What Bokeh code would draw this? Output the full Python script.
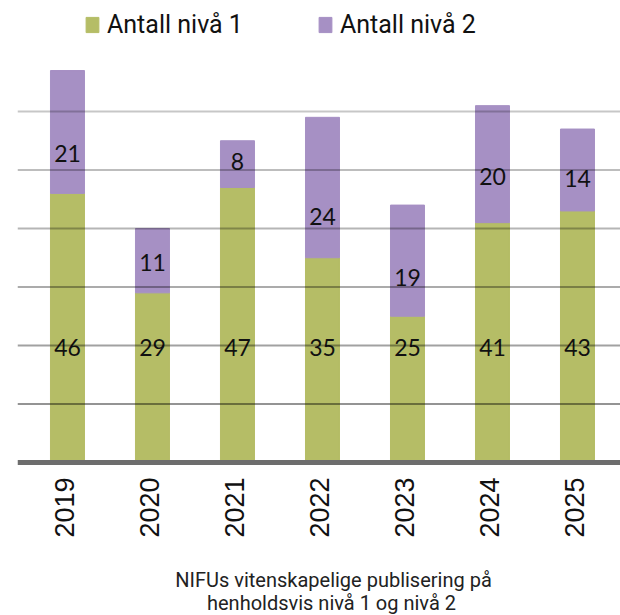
import math
from bokeh.plotting import figure
from bokeh.models import Range1d, Span, Legend, LegendItem, ColumnDataSource
from bokeh.core.properties import value
from bokeh.embed import file_html
from bokeh.resources import INLINE

years = ["2019", "2020", "2021", "2022", "2023", "2024", "2025"]
niva1 = [46, 29, 47, 35, 25, 41, 43]
niva2 = [21, 11, 8, 24, 19, 20, 14]
series_names = ["Antall nivå 1", "Antall nivå 2"]
grid_ticks = [10, 20, 30, 40, 50, 60]
grid_alpha = [0.42, 0.37, 0.33, 0.29, 0.26, 0.22]
# label positions (data units)
label1_y = [19.6, 19.6, 19.6, 19.6, 19.6, 19.6, 19.6]
label2_y = [52.8, 34.2, 51.5, 42.1, 31.7, 48.9, 48.5]
caption_lines = ["NIFUs vitenskapelige publisering på", "henholdsvis nivå 1 og nivå 2"]

GREEN = "#b5bd66"
PURPLE = "#a690c4"

xs = list(range(len(years)))
src = ColumnDataSource(dict(x=xs, n1=niva1, n2=niva2, year=years,
                            l1=[str(v) for v in niva1], l2=[str(v) for v in niva2],
                            y1=label1_y, y2=label2_y))

# frame covers the canvas 0..615 px; 0 of the value axis sits at 462 px
p = figure(width=620, height=615, output_backend="svg", toolbar_location=None,
           x_range=Range1d(-0.588, 6.506), y_range=Range1d(-26.15, 78.97),
           min_border_left=17, min_border_right=0, min_border_top=0, min_border_bottom=0)
p.outline_line_color = None
p.background_fill_color = "white"
p.border_fill_color = "white"
p.xgrid.visible = False
p.ygrid.visible = False
p.xaxis.visible = False
p.yaxis.visible = False

rs = p.vbar_stack(["n1", "n2"], x="x", width=0.4, source=src,
                  fill_color=[GREEN, PURPLE], line_color=[GREEN, PURPLE], line_width=1)

for t, a in zip(grid_ticks, grid_alpha):
    p.add_layout(Span(location=t, dimension="width", line_color="black",
                      line_alpha=a, line_width=2))
# baseline (category axis line)
p.add_layout(Span(location=0, dimension="width", line_color="#6d6d6d", line_width=5))

p.text(x="x", y="y1", text="l1", source=src, text_align="center", text_baseline="middle",
       text_font=value("Lato"), text_font_size="23px", text_color="#111111")
p.text(x="x", y="y2", text="l2", source=src, text_align="center", text_baseline="middle",
       text_font=value("Lato"), text_font_size="23px", text_color="#111111")

# category (year) labels, rotated to read bottom-to-top
p.text(x="x", y=0, text="year", source=src, angle=math.pi / 2,
       text_align="right", text_baseline="middle", x_offset=-3, y_offset=15,
       text_font=value("Liberation Sans"), text_font_size="27px", text_color="#111111")

# caption below the axis
p.text(x=[3], y=[0], text=[caption_lines[0]], text_align="center", text_baseline="middle",
       x_offset=11, y_offset=117, text_font=value("Roboto"), text_font_size="20px",
       text_color="#222222")
p.text(x=[3], y=[0], text=[caption_lines[1]], text_align="center", text_baseline="middle",
       x_offset=9, y_offset=140, text_font=value("Roboto"), text_font_size="20px",
       text_color="#222222")

legend = Legend(items=[LegendItem(label=series_names[0], renderers=[rs[0]]),
                       LegendItem(label=series_names[1], renderers=[rs[1]])],
                orientation="horizontal", location=(67, 576),
                glyph_width=16, glyph_height=19, label_standoff=7, spacing=74,
                padding=0, margin=0, border_line_color=None, background_fill_alpha=0,
                label_text_font="Roboto", label_text_font_size="25px",
                label_text_color="#111111")
p.add_layout(legend, "center")

open("out.html", "w").write(file_html(p, INLINE))
